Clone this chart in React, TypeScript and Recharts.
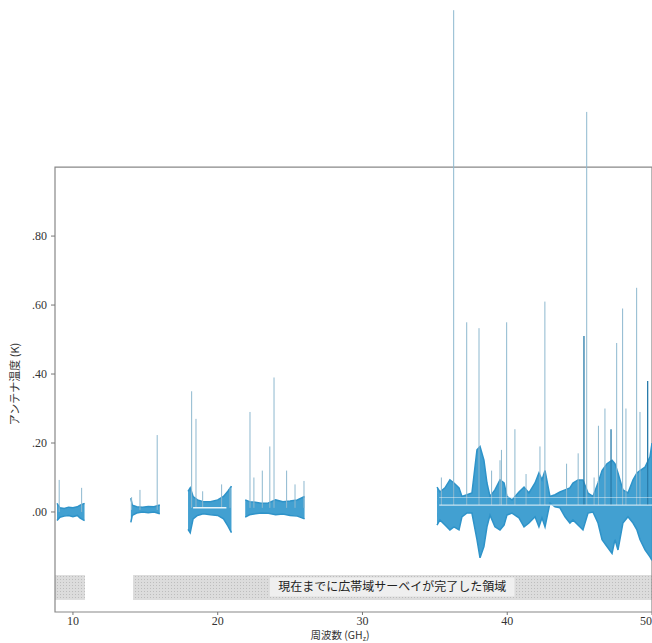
import {
  ComposedChart,
  Area,
  Line,
  XAxis,
  YAxis,
  ReferenceArea,
  ReferenceLine,
} from 'recharts';

const xTicks = [10, 20, 30, 40, 50];
const yTicks = [0, 0.2, 0.4, 0.6, 0.8];

// noise band envelope per observed segment: [GHz, low K, high K]
const band1 = [
  [8.9, -0.025, 0.025], [9.1, -0.015, 0.012], [9.4, -0.012, 0.01], [9.7, -0.01, 0.014],
  [10.0, -0.014, 0.012], [10.3, -0.01, 0.015], [10.5, -0.018, 0.02], [10.8, -0.025, 0.025],
];
const band2 = [
  [14.0, -0.03, 0.04], [14.1, -0.01, 0.02], [14.4, -0.003, 0.015], [14.8, 0.0, 0.014],
  [15.2, -0.002, 0.016], [15.6, 0.0, 0.015], [16.0, -0.005, 0.02],
];
const band3 = [
  [17.95, -0.05, 0.06], [18.1, -0.06, 0.07], [18.3, -0.02, 0.045], [18.6, -0.01, 0.035],
  [19.0, -0.005, 0.03], [19.5, -0.008, 0.03], [20.0, -0.01, 0.035], [20.4, -0.02, 0.045],
  [20.7, -0.04, 0.06], [20.95, -0.06, 0.075],
];
const band4 = [
  [21.9, -0.015, 0.035], [22.2, -0.008, 0.03], [22.6, -0.005, 0.028], [23.0, -0.003, 0.025],
  [23.5, -0.004, 0.026], [24.0, -0.008, 0.035], [24.5, -0.006, 0.03], [25.0, -0.01, 0.032],
  [25.5, -0.012, 0.035], [26.0, -0.02, 0.045],
];
const band5 = [
  [35.15, -0.038, 0.072], [35.35, -0.023, 0.058], [35.7, -0.038, 0.07], [36.04, -0.052, 0.093],
  [36.32, -0.043, 0.084], [36.67, -0.052, 0.07], [36.87, -0.014, 0.045], [37.22, -0.003, 0.05],
  [37.56, -0.003, 0.055], [37.91, -0.08, 0.18], [38.12, -0.133, 0.19], [38.39, -0.1, 0.15],
  [38.6, -0.043, 0.084], [38.81, -0.009, 0.045], [39.15, -0.043, 0.064], [39.5, -0.052, 0.093],
  [39.78, -0.038, 0.084], [39.98, -0.009, 0.045], [40.33, -0.003, 0.035], [40.81, -0.017, 0.058],
  [41.16, -0.043, 0.072], [41.5, -0.032, 0.055], [41.92, -0.014, 0.084], [42.19, -0.043, 0.113],
  [42.4, -0.017, 0.093], [42.61, -0.043, 0.12], [42.95, 0.026, 0.045], [43.3, 0.015, 0.05],
  [43.64, 0.012, 0.058], [43.99, -0.014, 0.064], [44.33, -0.032, 0.07], [44.54, -0.023, 0.084],
  [44.89, -0.038, 0.093], [45.23, -0.052, 0.093], [45.58, -0.003, 0.055], [45.92, 0.0, 0.045],
  [46.27, -0.032, 0.084], [46.55, -0.08, 0.12], [46.89, -0.1, 0.14], [47.24, -0.12, 0.15],
  [47.44, -0.08, 0.14], [47.65, -0.11, 0.113], [47.99, -0.032, 0.064], [48.34, -0.014, 0.055],
  [48.69, -0.032, 0.093], [48.96, -0.052, 0.113], [49.17, -0.08, 0.12], [49.52, -0.11, 0.13],
  [49.86, -0.13, 0.16], [50.0, -0.14, 0.2],
];
const bandSegments = [band1, band2, band3, band4, band5];

// narrow emission lines per segment: [GHz, peak K]
const lines1 = [[9.05, 0.093], [10.6, 0.07]];
const lines2 = [[14.05, 0.043], [14.63, 0.064], [15.82, 0.223]];
const lines3 = [[18.2, 0.35], [18.5, 0.27], [18.96, 0.06], [20.27, 0.08], [20.85, 0.07]];
const lines4 = [
  [22.23, 0.29], [22.5, 0.1], [23.08, 0.12], [23.6, 0.19], [23.89, 0.39],
  [24.76, 0.12], [25.34, 0.08], [25.96, 0.09],
];
const lines5 = [
  [35.45, 0.1], [36.3, 1.455], [37.2, 0.55], [38.05, 0.533], [38.92, 0.12], [39.5, 0.15],
  [39.6, 0.18], [39.96, 0.55], [40.53, 0.24], [41.3, 0.11], [42.26, 0.19], [42.6, 0.61],
  [44.1, 0.14], [44.9, 0.17], [45.49, 1.16], [46.0, 0.1], [46.3, 0.25], [46.75, 0.3],
  [47.56, 0.49], [47.97, 0.59], [48.2, 0.3], [48.94, 0.65], [49.17, 0.29],
];
const strongLines = [[45.3, 0.51], [47.17, 0.24], [49.7, 0.38]];
const lineGroups = [lines1, lines2, lines3, lines4, lines5];
const lineBase = [0.0, 0.006, 0.012, 0.012, 0.02];

// hatched strips marking the surveyed ranges: [from GHz, to GHz]
const surveyed = [[8.76, 10.83], [14.15, 50]];
const surveyText = '現在までに広帯域サーベイが完了した領域';

const bandRows: { f: number; range: number[] | null }[] = [];
bandSegments.forEach((seg) => {
  seg.forEach(([f, lo, hi]) => bandRows.push({ f, range: [lo, hi] }));
  bandRows.push({ f: seg[seg.length - 1][0] + 0.01, range: null });
});

const toSpikes = (list: number[][], base: number) => {
  const rows: { f: number; v: number | null }[] = [];
  list.forEach(([f, peak]) => {
    rows.push({ f, v: base });
    rows.push({ f, v: peak });
    rows.push({ f, v: null });
  });
  return rows;
};

const spikeRows = lineGroups.flatMap((g, gi) => toSpikes(g, lineBase[gi]));
const strongRows = toSpikes(strongLines, 0.02);

const serif = '"Liberation Serif", "DejaVu Serif", serif';
const jp = '"Noto Sans CJK JP", sans-serif';

const YLabel = () => (
  <text
    x={19}
    y={384}
    transform="rotate(-90 19 384)"
    textAnchor="middle"
    fontFamily={jp}
    fontSize={11}
    fill="#333"
  >
    アンテナ温度 (K)
  </text>
);

const XLabel = () => (
  <text x={340} y={639} textAnchor="middle" fontFamily={jp} fontSize={10.5} fill="#333">
    周波数 (GH
    <tspan fontSize={7} dy={2}>z</tspan>
    <tspan dy={-2}>)</tspan>
  </text>
);

const App = () => {
  return (
    <div style={{ position: 'absolute', left: 0, top: 0, width: 652, height: 643, background: '#fff' }}>
      <ComposedChart
        width={652}
        height={643}
        data={bandRows}
        margin={{ top: 5, right: 0, bottom: 0, left: 0 }}
      >
        <defs>
          <pattern id="stipple" width="3" height="3" patternUnits="userSpaceOnUse">
            <rect width="3" height="3" fill="#dcdcdc" />
            <rect width="1" height="1" fill="#bdbdbd" />
          </pattern>
        </defs>
        <XAxis
          dataKey="f"
          type="number"
          domain={[8.76, 50]}
          ticks={xTicks}
          allowDataOverflow
          height={31}
          axisLine={false}
          tickSize={3}
          tickMargin={1}
          stroke="#777"
          tick={{ fill: '#333', fontFamily: serif, fontSize: 12 }}
          label={<XLabel />}
        />
        <YAxis
          type="number"
          domain={[-0.29, 1.47]}
          ticks={yTicks}
          allowDataOverflow
          width={55}
          axisLine={false}
          tickSize={4}
          tickMargin={4}
          stroke="#777"
          tickFormatter={(v: number) => v.toFixed(2).replace(/^0/, '')}
          tick={{ fill: '#333', fontFamily: serif, fontSize: 12 }}
          label={<YLabel />}
        />
        {surveyed.map(([a, b]) => (
          <ReferenceArea
            key={a}
            x1={a}
            x2={b}
            y1={-0.255}
            y2={-0.183}
            fill="url(#stipple)"
            fillOpacity={1}
            stroke="none"
          />
        ))}
        <ReferenceArea
          x1={23.6}
          x2={40.5}
          y1={-0.245}
          y2={-0.19}
          fill="#efefef"
          fillOpacity={1}
          stroke="none"
          label={{ value: surveyText, position: 'center', fill: '#222', fontSize: 12, fontFamily: jp }}
        />
        <ReferenceArea
          x1={8.76}
          x2={50}
          y1={-0.29}
          y2={1.0}
          fill="none"
          stroke="#888"
          strokeWidth={1.2}
        />
        <Line
          data={spikeRows}
          dataKey="v"
          stroke="#8db8cf"
          strokeWidth={1}
          dot={false}
          connectNulls={false}
          isAnimationActive={false}
        />
        <Area
          dataKey="range"
          type="linear"
          stroke="#2e93c9"
          strokeWidth={1.5}
          fill="#2e96cc"
          fillOpacity={0.9}
          connectNulls={false}
          isAnimationActive={false}
        />
        <Line
          data={strongRows}
          dataKey="v"
          stroke="#2a7cab"
          strokeWidth={1.3}
          dot={false}
          connectNulls={false}
          isAnimationActive={false}
        />
        <ReferenceLine
          segment={[{ x: 18.3, y: 0.012 }, { x: 20.6, y: 0.012 }]}
          stroke="#e8f4fa"
          strokeWidth={1.5}
        />
        <ReferenceLine
          segment={[{ x: 35.3, y: 0.02 }, { x: 50, y: 0.02 }]}
          stroke="#e8f4fa"
          strokeWidth={1.2}
          strokeOpacity={0.8}
        />
        <ReferenceLine
          segment={[{ x: 35.3, y: 0.042 }, { x: 50, y: 0.042 }]}
          stroke="#e8f4fa"
          strokeWidth={1}
          strokeOpacity={0.5}
        />
      </ComposedChart>
    </div>
  );
};

export default App;
